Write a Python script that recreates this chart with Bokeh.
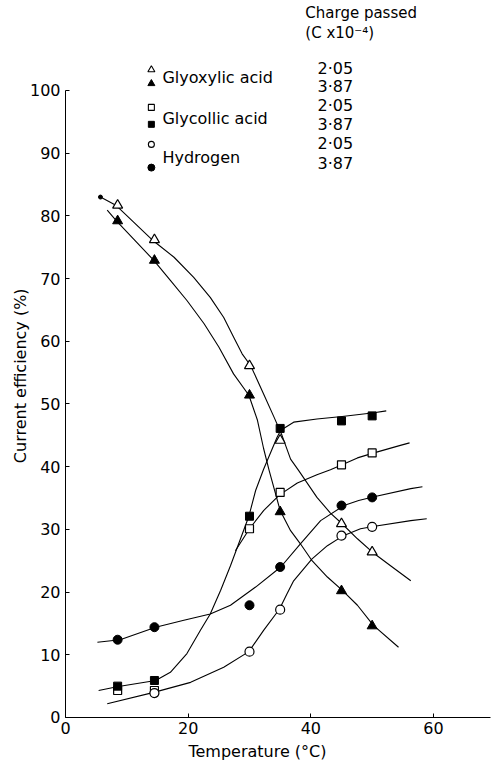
from bokeh.plotting import figure
from bokeh.models import Range1d, FixedTicker
from bokeh.core.properties import value
from bokeh.embed import file_html
from bokeh.resources import INLINE
import math

FONT = "DejaVu Sans"

# ---- measured data points ----
temps = [8.5, 14.5, 30, 35, 45, 50]
glyox_205 = [81.7, 76.2, 56.1, 44.2, 30.9, 26.4]
glyox_387 = [79.2, 72.9, 51.4, 32.8, 20.2, 14.6]
glycol_205 = [4.3, 4.3, 30.1, 35.9, 40.3, 42.2]
glycol_387 = [5.0, 5.9, 32.1, 46.1, 47.3, 48.1]
hyd_205_t = [14.5, 30, 35, 45, 50]
hyd_205 = [3.9, 10.5, 17.2, 29.0, 30.4]
hyd_387 = [12.4, 14.4, 17.9, 24.0, 33.8, 35.1]

# ---- hand-drawn curves ----
cur_glyox_205_x = [5.7, 8.2, 14.1, 17.7, 20.9, 23.6, 25.8, 27.4, 28.8, 30.2, 32.3, 34.0, 35.3, 36.7, 38.0, 41.0, 43.2, 45.1, 47.6, 50.0, 53.0, 56.3]
cur_glyox_205_y = [83.0, 81.7, 76.2, 73.4, 70.2, 67.0, 63.8, 60.7, 58.0, 56.1, 51.6, 47.9, 45.0, 41.2, 39.4, 35.1, 32.6, 30.9, 28.5, 26.4, 24.2, 21.8]

cur_glyox_387_x = [6.8, 8.3, 14.4, 17.1, 19.8, 22.6, 25.0, 27.4, 29.9, 31.3, 32.3, 33.2, 35.0, 36.7, 38.3, 40.2, 42.7, 45.1, 47.6, 50.2, 54.3]
cur_glyox_387_y = [80.9, 79.2, 72.9, 69.7, 66.5, 62.8, 59.1, 54.8, 51.4, 47.4, 42.9, 39.4, 33.0, 29.8, 27.7, 25.0, 22.4, 20.3, 17.9, 14.7, 11.2]

cur_glycol_205_x = [27.7, 30.0, 32.3, 34.9, 37.8, 41.0, 43.2, 45.1, 47.6, 50.3, 54.6, 56.1]
cur_glycol_205_y = [26.6, 30.1, 33.0, 35.5, 37.4, 38.7, 39.5, 40.3, 41.4, 42.2, 43.4, 43.8]

cur_glycol_387_x = [5.4, 8.4, 14.7, 17.1, 19.8, 22.0, 23.6, 25.3, 26.9, 29.9, 31.0, 32.3, 34.5, 35.1, 37.2, 41.0, 45.1, 50.3, 52.3]
cur_glycol_387_y = [4.3, 4.9, 5.9, 7.2, 10.2, 13.9, 16.5, 20.3, 24.2, 32.1, 36.2, 39.6, 44.7, 45.8, 47.1, 47.6, 48.0, 48.6, 48.9]

cur_hyd_205_x = [6.8, 14.4, 20.4, 25.8, 29.9, 32.3, 34.9, 36.1, 37.2, 40.2, 42.7, 45.3, 48.1, 50.4, 56.3, 58.9]
cur_hyd_205_y = [2.2, 4.0, 5.6, 8.0, 10.5, 13.9, 17.3, 19.7, 21.8, 25.3, 27.4, 29.0, 30.1, 30.5, 31.4, 31.7]

cur_hyd_387_x = [5.2, 8.9, 14.7, 19.3, 23.6, 26.9, 31.0, 35.1, 38.3, 41.6, 45.4, 47.8, 50.3, 56.3, 58.2]
cur_hyd_387_y = [12.0, 12.4, 14.4, 15.5, 16.5, 17.9, 20.8, 24.0, 27.7, 31.4, 33.8, 34.6, 35.2, 36.5, 36.8]

# ---- texts ----
series_names = ["Glyoxylic acid", "Glycollic acid", "Hydrogen"]
charge_title = ["Charge passed", "(C x10\u207b\u2074)"]
charge_values = ["2\u00b705", "3\u00b787"]
x_title = "Temperature (\u00b0C)"
y_title = "Current efficiency (%)"
x_ticks = [0, 20, 40, 60]
y_ticks = [0, 10, 20, 30, 40, 50, 60, 70, 80, 90, 100]

# frame fills the canvas; axes are pinned at x=0 and y=0
p = figure(width=494, height=762,
           x_range=Range1d(-10.6, 69.95), y_range=Range1d(-7.18, 114.35),
           output_backend="svg", toolbar_location=None,
           min_border=0, min_border_left=0, min_border_right=0,
           min_border_top=0, min_border_bottom=0)
p.outline_line_color = None
p.xgrid.grid_line_color = None
p.ygrid.grid_line_color = None
p.background_fill_color = "white"
p.border_fill_color = "white"

for ax in (p.xaxis[0], p.yaxis[0]):
    ax.fixed_location = 0
    ax.major_tick_in = 4
    ax.major_tick_out = 0
    ax.minor_tick_line_color = None
    ax.axis_line_color = "black"
    ax.axis_line_width = 1
    ax.major_tick_line_color = "black"
    ax.major_label_text_font = FONT
    ax.major_label_text_font_size = "16px"
    ax.major_label_text_color = "black"
p.xaxis.major_label_standoff = 5
p.yaxis.major_label_standoff = 5
p.xaxis.ticker = FixedTicker(ticks=x_ticks)
p.yaxis.ticker = FixedTicker(ticks=y_ticks)
p.xaxis.bounds = (0, 69.3)
p.yaxis.bounds = (0, 100)

LW = 1.1
for cx, cy in [(cur_glyox_205_x, cur_glyox_205_y), (cur_glyox_387_x, cur_glyox_387_y),
               (cur_glycol_205_x, cur_glycol_205_y), (cur_glycol_387_x, cur_glycol_387_y),
               (cur_hyd_205_x, cur_hyd_205_y), (cur_hyd_387_x, cur_hyd_387_y)]:
    p.line(cx, cy, line_color="black", line_width=LW, line_join="round")
p.scatter([cur_glyox_205_x[0]], [cur_glyox_205_y[0]], marker="circle", size=4, color="black")

# data points
p.scatter(temps, glyox_205, marker="triangle", size=10, fill_color="white", line_color="black", line_width=1.2)
p.scatter(temps, glyox_387, marker="triangle", size=10, fill_color="black", line_color="black")
p.scatter(temps, glycol_205, marker="square", size=8, fill_color="white", line_color="black", line_width=1.2)
p.scatter(temps, glycol_387, marker="square", size=8, fill_color="black", line_color="black")
p.scatter(hyd_205_t, hyd_205, marker="circle", size=9, fill_color="white", line_color="black", line_width=1.2)
p.scatter(temps, hyd_387, marker="circle", size=9, fill_color="black", line_color="black")

# legend symbols (layout positions)
lx = 14.0
p.scatter([lx], [103.3], marker="triangle", size=7, fill_color="white", line_color="black", line_width=1.1)
p.scatter([lx], [101.1], marker="triangle", size=7, fill_color="black", line_color="black")
p.scatter([lx], [97.3], marker="square", size=6, fill_color="white", line_color="black", line_width=1.1)
p.scatter([lx], [94.6], marker="square", size=6, fill_color="black", line_color="black")
p.scatter([lx], [91.4], marker="circle", size=6, fill_color="white", line_color="black", line_width=1.1)
p.scatter([lx], [87.7], marker="circle", size=7, fill_color="black", line_color="black")

p.text(x=[15.8] * 3, y=[102.1, 95.5, 89.3], text=series_names, text_font=value(FONT),
       text_font_size="16px", text_baseline="middle", text_align="left", text_color="black")
p.text(x=[39.1, 39.1], y=[112.3, 109.2], text=charge_title, text_font=value(FONT),
       text_font_size="15px", text_baseline="middle", text_align="left", text_color="black")
p.text(x=[41.1] * 6, y=[103.5, 100.6, 97.6, 94.6, 91.5, 88.4], text=charge_values * 3,
       text_font=value(FONT), text_font_size="16px", text_baseline="middle",
       text_align="left", text_color="black")

# axis titles
p.text(x=[31.3], y=[-5.5], text=[x_title], text_font=value(FONT), text_font_size="16px",
       text_align="center", text_baseline="middle", text_color="black")
p.text(x=[-7.3], y=[54.5], text=[y_title], text_font=value(FONT), text_font_size="16px",
       text_align="center", text_baseline="middle", angle=math.pi / 2, text_color="black")

open("out.html", "w").write(file_html(p, INLINE))
